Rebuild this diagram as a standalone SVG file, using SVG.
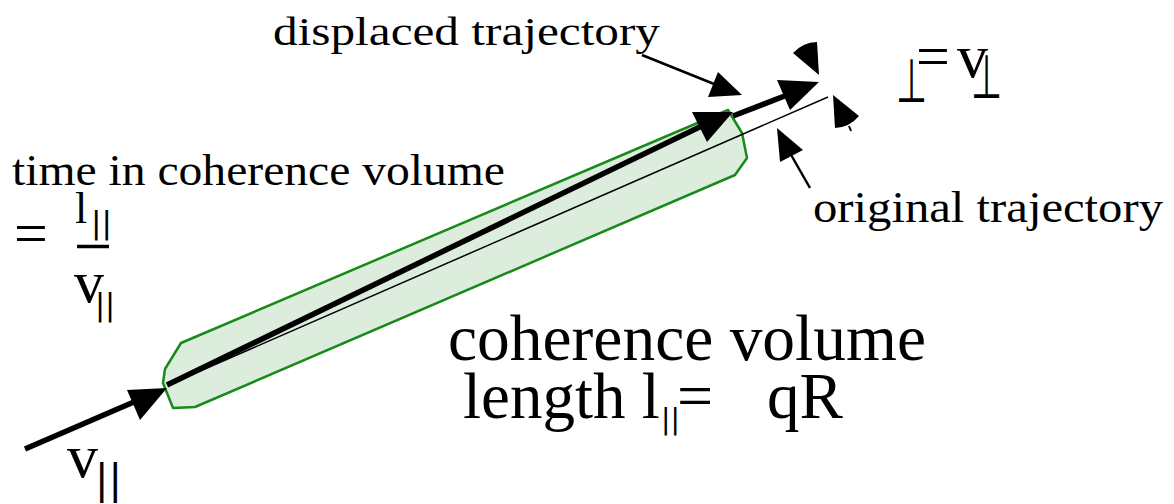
<svg xmlns="http://www.w3.org/2000/svg" width="1174" height="504" viewBox="0 0 1174 504">
<style>
  .t { font-family: "Liberation Serif", "Times New Roman", serif; fill: #000; }
  .bar { font-family: "DejaVu Sans", "Liberation Sans", sans-serif; }
  .sym { font-family: "DejaVu Sans", "DejaVu Serif", sans-serif; fill: #000; }
  .thick { stroke: #000; stroke-width: 5.5; fill: none; }
  .thin { stroke: #000; stroke-width: 1.5; fill: none; }
  .lead { stroke: #000; stroke-width: 2.5; fill: none; }
  .head { fill: #000; stroke: none; }
</style>
<rect width="1174" height="504" fill="#fff"/>

<g id="coherence-volume-shape">
  <polygon points="181,343 728,110 742,133 747,158 735,175 195,407 173,408 163,383 165,369" fill="#ddeddd" stroke="#178a17" stroke-width="2.5" stroke-linejoin="round"/>
</g>

<g id="connectors">
  <!-- incoming v|| arrow -->
  <line class="thick" x1="25" y1="449" x2="150" y2="395"/>
  <polygon class="head" points="127,390 167,388 140,420"/>
  <!-- original trajectory (thin) -->
  <line class="thin" x1="168" y1="385" x2="828" y2="97"/>
  <!-- displaced trajectory (thick) -->
  <line class="thick" x1="167" y1="385" x2="712" y2="121"/>
  <polygon class="head" points="692,112 733,112 707,142"/>
  <line class="thick" x1="733" y1="116" x2="795" y2="92"/>
  <polygon class="head" points="777,80 819,82 790,110"/>
  <!-- leader: displaced trajectory -->
  <line class="lead" x1="642" y1="55" x2="724" y2="88"/>
  <polygon class="head" points="718,72 742,95 708,97"/>
  <!-- leader: original trajectory -->
  <line class="lead" x1="810" y1="188" x2="786" y2="146"/>
  <polygon class="head" points="777,128 803,150 780,162"/>
  <!-- perpendicular displacement wedges -->
  <path class="head" d="M819,75 L793,53 A34 34 0 0 1 817,42 Z"/>
  <path class="head" d="M833,95 L859,116 A33 33 0 0 1 835,128 Z"/>
  <line x1="849" y1="126" x2="851" y2="131" stroke="#000" stroke-width="2"/>
</g>

<g id="label-displaced">
  <text class="t" x="273" y="45" font-size="40" textLength="387" lengthAdjust="spacingAndGlyphs">displaced trajectory</text>
</g>

<g id="label-original">
  <text class="t" x="813" y="222" font-size="44" textLength="350" lengthAdjust="spacingAndGlyphs">original trajectory</text>
</g>

<g id="label-time">
  <text class="t" x="12" y="185" font-size="44" textLength="493" lengthAdjust="spacingAndGlyphs">time in coherence volume</text>
  <text class="t" x="14" y="253" font-size="60">=</text>
  <text class="t" x="75" y="223" font-size="44">l<tspan class="bar" x="91" y="233" font-size="31">||</tspan></text>
  <line x1="77" y1="246.5" x2="109" y2="246.5" stroke="#000" stroke-width="3.5"/>
  <text class="t" x="74" y="302" font-size="60">v<tspan class="bar" x="95" y="315" font-size="30">||</tspan></text>
</g>

<g id="label-v-parallel">
  <text class="t" x="67" y="477" font-size="62">v<tspan class="bar" x="95" y="493" font-size="40">||</tspan></text>
</g>

<g id="label-coherence-volume">
  <text class="t" x="448" y="360" font-size="65" textLength="478" lengthAdjust="spacingAndGlyphs">coherence volume</text>
  <text class="t" x="463" y="418" font-size="65">length l<tspan class="bar" x="661" y="429" font-size="28">||</tspan><tspan x="677" y="417" font-size="64">=</tspan><tspan x="767" y="418" font-size="65">qR</tspan></text>
</g>

<g id="label-perp">
  <text class="sym" font-size="34" transform="translate(896,102) scale(1.05,1.8)">⊥</text>
  <text class="t" x="916" y="76" font-size="60">=<tspan x="957" y="77" font-size="62">v</tspan></text>
  <text class="sym" font-size="34" transform="translate(971,98) scale(1.05,1.8)">⊥</text>
</g>
</svg>
